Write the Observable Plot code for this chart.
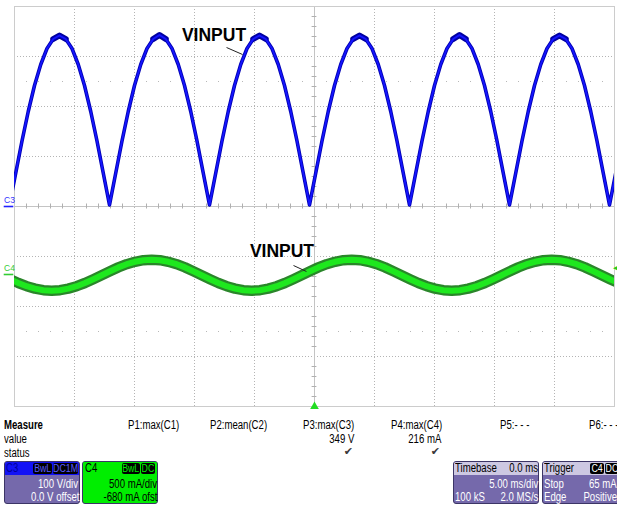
<!DOCTYPE html>
<html><head><meta charset="utf-8">
<script src="https://cdn.jsdelivr.net/npm/d3@7"></script>
<script src="https://cdn.jsdelivr.net/npm/@observablehq/plot@0.6"></script>
<style>
body{margin:0;background:#fff;font-family:"Liberation Sans",Arial,sans-serif;}
#wrap{position:relative;width:617px;height:508px;overflow:hidden;background:#fff;}
#wrap svg{display:block;}
.t{position:absolute;font-size:12px;line-height:12px;white-space:nowrap;color:#000;transform:scaleX(0.8);transform-origin:0 0;}
.box{position:absolute;box-sizing:border-box;border:1px solid #3c3566;border-radius:3px;overflow:hidden;}
.hdr{position:absolute;left:0;top:0;right:0;height:13px;}
.badge{position:absolute;height:11px;background:#000;border-radius:2px;display:flex;align-items:center;justify-content:center;font-size:11px;line-height:11px;}
.badge span{display:inline-block;transform:scaleX(0.8);}
</style></head>
<body><div id="wrap"></div>
<script>
// ---- Channel C3 (V), sampled every 1/16 half-cycle ----
const c3Start = -25.417, c3Step = 0.52083;   // ms
const c3Volts = [
  3, 67, 131, 190, 242, 284, 316, 335, 342, 335, 316, 284, 242, 190, 131, 67,
  3, 67, 131, 190, 242, 284, 316, 335, 343, 335, 316, 284, 242, 190, 131, 67,
  3, 67, 131, 190, 242, 284, 316, 335, 342, 335, 316, 284, 242, 190, 131, 67,
  3, 67, 131, 190, 242, 284, 316, 335, 342, 335, 316, 284, 242, 190, 131, 67,
  3, 67, 131, 190, 242, 284, 316, 335, 343, 335, 316, 284, 242, 190, 131, 67,
  3, 67, 131, 190, 242, 284, 316, 335, 342, 335, 316, 284, 242, 190, 131, 67,
  3, 67
];
// ---- Channel C4 (mA), sampled every 1/24 cycle ----
const c4Start = -26.07, c4Step = 0.69444;    // ms
const c4mA = [
  -7, -47, -85, -117, -141, -157, -162, -157, -141, -117, -85, -47, -7, 33, 71, 103, 127, 143, 148, 143, 127, 103, 71, 33,
  -7, -47, -85, -117, -141, -157, -162, -157, -141, -117, -85, -47, -7, 33, 71, 103, 127, 143, 148, 143, 127, 103, 71, 33,
  -7, -47, -85, -117, -141, -157, -162, -157, -141, -117, -85, -47, -7, 33, 71, 103, 127, 143, 148, 143, 127, 103, 71, 33,
  -7, -47, -85
];
const c3VoltsPerDiv = 100, c3Offset = 0;      // V
const c4mAPerDiv = 500, c4Offset = -680;      // mA
const triggerLevel = 65;                      // mA
const timePerDiv = 5;                         // ms

const gridX = [-20, -15, -10, -5, 5, 10, 15, 20];
const gridY = [-3, -2, -1, 1, 2, 3];
const quarterY = [2.5, -2.5];
const minorX = [-24,-23,-22,-21,-19,-18,-17,-16,-14,-13,-12,-11,-9,-8,-7,-6,-4,-3,-2,-1,1,2,3,4,6,7,8,9,11,12,13,14,16,17,18,19,21,22,23,24];
const minorY = [-3.8,-3.6,-3.4,-3.2,-2.8,-2.6,-2.4,-2.2,-1.8,-1.6,-1.4,-1.2,-0.8,-0.6,-0.4,-0.2,0.2,0.4,0.6,0.8,1.2,1.4,1.6,1.8,2.2,2.4,2.6,2.8,3.2,3.4,3.6,3.8];

const labels = [
  {text: "VINPUT", t: -8.375, div: 3.43, t1: -7.33, y1: 3.18, t2: -6.0, y2: 3.04},
  {text: "VINPUT", t: -2.71, div: -0.90, t1: -1.75, y1: -1.18, t2: -0.67, y2: -1.30}
];

const measureHeaders = ["P1:max(C1)", "P2:mean(C2)", "P3:max(C3)", "P4:max(C4)", "P5:- - -", "P6:- - -"];
const measureValues = ["", "", "349 V", "216 mA", "", ""];
const measureStatus = [false, false, true, true, false, false];

// build tables
const c3 = c3Volts.map((v, i) => ({t: c3Start + i * c3Step, v, hump: Math.floor(i / 16), div: (v + c3Offset) / c3VoltsPerDiv}));
const c4 = c4mA.map((v, i) => ({t: c4Start + i * c4Step, div: (v + c4Offset) / c4mAPerDiv}));
const c3Crest = c3.filter(d => d.v >= 335);
const c3Zero = c3Offset / c3VoltsPerDiv, c4Zero = c4Offset / c4mAPerDiv;

const wrap = document.getElementById("wrap");

const chart = Plot.plot({
  width: 617, height: 410,
  marginLeft: 14, marginRight: 3, marginTop: 6, marginBottom: 4,
  x: {domain: [-5 * timePerDiv, 5 * timePerDiv], axis: null},
  y: {domain: [-4, 4], axis: null},
  style: {background: "#fff", fontFamily: "Liberation Sans, Arial, sans-serif", overflow: "visible"},
  marks: [
    Plot.ruleX(gridX, {stroke: "#b4b4b4", strokeDasharray: "1,2"}),
    Plot.ruleY(gridY, {stroke: "#b4b4b4", strokeDasharray: "1,2"}),
    Plot.ruleY(quarterY, {stroke: "#b8b8b8", strokeDasharray: "1,11"}),
    Plot.ruleY([0], {stroke: "#c4c4c4"}),
    Plot.ruleX([0], {stroke: "#c4c4c4"}),
    Plot.ruleX(minorX, {x: d => d, y1: -0.05, y2: 0.05, stroke: "#b0b0b0"}),
    Plot.ruleY(minorY, {y: d => d, x1: -0.2, x2: 0.2, stroke: "#b0b0b0"}),
    Plot.frame({stroke: "#cccccc"}),
    Plot.line(c4, {x: "t", y: "div", stroke: "#2a862a", strokeWidth: 10.5, strokeLinejoin: "round", clip: true}),
    Plot.line(c4, {x: "t", y: "div", stroke: "#1ee81e", strokeWidth: 6, strokeLinejoin: "round", clip: true}),
    Plot.line(c3Crest, {x: "t", y: "div", z: "hump", stroke: "#00009c", strokeWidth: 6, strokeLinecap: "round", strokeLinejoin: "round", clip: true}),
    Plot.line(c3, {x: "t", y: "div", stroke: "#0000b4", strokeWidth: 3.6, strokeLinejoin: "round", clip: true}),
    Plot.line(c3, {x: "t", y: "div", stroke: "#1515ff", strokeWidth: 1.8, strokeLinejoin: "round", clip: true}),
    Plot.link(labels, {x1: "t1", y1: "y1", x2: "t2", y2: "y2", stroke: "#222", strokeWidth: 1}),
    Plot.text(labels, {x: "t", y: "div", text: "text", fontSize: 17.5, fontWeight: "bold", fill: "#000", textAnchor: "middle", lineAnchor: "middle"}),
    // channel ground markers
    Plot.text([{y: c3Zero, s: "C3", c: "#3030ff"}, {y: c4Zero, s: "C4", c: "#33cc33"}],
      {x: -25, y: "y", text: "s", fill: "c", dx: -5, dy: -6, fontSize: 8.5, textAnchor: "middle", lineAnchor: "middle"}),
    Plot.link([{y: c3Zero, c: "#2020ff"}, {y: c4Zero, c: "#33cc33"}],
      {x1: -25.9, x2: -25.1, y1: "y", y2: "y", stroke: "c", strokeWidth: 1.6}),
    // trigger markers
    Plot.dot([0], {x: d => d, y: -4, symbol: "triangle", r: 3.2, fill: "#22dd22"}),
    Plot.text([(triggerLevel + c4Offset) / c4mAPerDiv], {x: 25, y: d => d, text: () => "\u25C0", fill: "#22cc22", fontSize: 7, textAnchor: "end", dx: 3})
  ]
});
wrap.appendChild(chart);

// ---- bottom measure/status panel ----
function addText(s, o) {
  const d = document.createElement("div");
  d.className = "t";
  d.textContent = s;
  d.style.top = o.top + "px";
  if (o.right != null) { d.style.right = (617 - o.right) + "px"; d.style.transformOrigin = "100% 0"; }
  else d.style.left = o.left + "px";
  if (o.bold) d.style.fontWeight = "bold";
  if (o.color) d.style.color = o.color;
  if (o.font) { d.style.fontFamily = o.font; d.style.transform = "none"; }
  if (o.size) { d.style.fontSize = o.size + "px"; d.style.lineHeight = o.size + "px"; }
  wrap.appendChild(d);
}
function addBox(left, width, body, header) {
  const b = document.createElement("div");
  b.className = "box";
  Object.assign(b.style, {left: left + "px", top: "461px", width: width + "px", height: "43px", background: body});
  const h = document.createElement("div");
  h.className = "hdr"; h.style.background = header;
  b.appendChild(h);
  wrap.appendChild(b);
}
function addBadge(s, left, width, color) {
  const d = document.createElement("div");
  d.className = "badge";
  Object.assign(d.style, {left: left + "px", top: "463px", width: width + "px", color});
  const sp = document.createElement("span"); sp.textContent = s; d.appendChild(sp);
  wrap.appendChild(d);
}

addText("Measure", {left: 4, top: 418.5, bold: true});
addText("value", {left: 4, top: 433});
addText("status", {left: 4, top: 447});
const headerLeft = [128, 210, 303, 391, 500, 589];
const valueRight = [179, 267, 354, 441, 528, 617];
measureHeaders.forEach((h, i) => addText(h, {left: headerLeft[i], top: 418.5}));
measureValues.forEach((v, i) => { if (v) addText(v, {right: valueRight[i], top: 433}); });
measureStatus.forEach((s, i) => { if (s) addText("\u2714", {right: valueRight[i] - 1, top: 446, color: "#3a3a3a", size: 11, font: "DejaVu Sans"}); });

// C3 box
addBox(4, 76, "#7569ab", "#1212f5");
addText("C3", {left: 6, top: 462, color: "#00009a"});
addBadge("BwL", 33, 19, "#5a5aff");
addBadge("DC1M", 53, 25, "#5a5aff");
addText(c3VoltsPerDiv + " V/div", {right: 78, top: 478, color: "#fff"});
addText(c3Offset.toFixed(1) + " V offset", {right: 79, top: 491, color: "#fff"});
// C4 box
addBox(82, 76, "#00ee00", "#00ee00");
addText("C4", {left: 85, top: 462});
addBadge("BwL", 122, 18, "#00ee00");
addBadge("DC", 141, 14, "#00ee00");
addText(c4mAPerDiv + " mA/div", {right: 157, top: 478});
addText(c4Offset + " mA ofst", {right: 157, top: 491});
// Timebase box
addBox(453, 86, "#7569ab", "#cdc8e2");
addText("Timebase", {left: 455, top: 462});
addText("0.0 ms", {right: 538, top: 462});
addText(timePerDiv.toFixed(2) + " ms/div", {right: 538, top: 478, color: "#fff"});
addText("100 kS", {left: 455, top: 491, color: "#fff"});
addText("2.0 MS/s", {right: 538, top: 491, color: "#fff"});
// Trigger box
addBox(542, 80, "#7569ab", "#cdc8e2");
addText("Trigger", {left: 544, top: 462});
addBadge("C4", 590, 14, "#fff");
addBadge("DC", 605, 13, "#fff");
addText("Stop", {left: 544, top: 478, color: "#fff"});
addText(triggerLevel + " mA", {right: 617, top: 478, color: "#fff"});
addText("Edge", {left: 544, top: 491, color: "#fff"});
addText("Positive", {right: 617, top: 491, color: "#fff"});
</script>
</body></html>
